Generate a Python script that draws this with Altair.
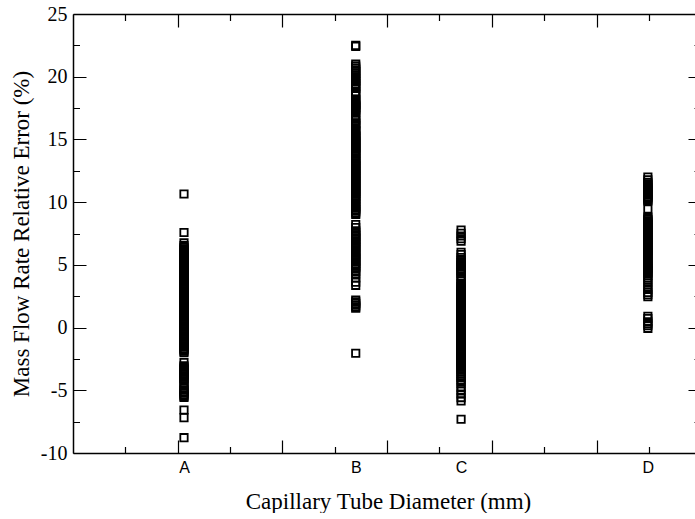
import altair as alt
import pandas as pd

# ---------------- data ----------------
categories = ["A", "B", "C", "D"]
x_positions = [1.06, 2.70, 3.706, 5.49]   # position of each tube on the x scale

errors_A = [10.65, 7.58, 6.75, 6.53, 6.39, 6.27, 6.18, 6.06, 5.98, 5.87, 5.79, 5.6,
            5.51, 5.4, 5.32, 5.21, 5.12, 5.02, 4.92, 4.81, 4.73, 4.62, 4.53, 4.41, 4.33,
            4.22, 4.13, 4.02, 3.94, 3.83, 3.72, 3.64, 3.52, 3.44, 3.33, 3.23, 3.14, 3.03,
            2.93, 2.84, 2.73, 2.64, 2.52, 2.44, 2.33, 2.24, 2.12, 2.04, 1.93, 1.83, 1.74,
            1.63, 1.54, 1.42, 1.34, 1.23, 1.14, 1.02, 0.93, 0.84, 0.72, 0.64, 0.53, 0.44,
            0.32, 0.24, 0.13, 0.04, -0.07, -0.16, -0.27, -0.36, -0.47, -0.56, -0.67, -0.76,
            -0.87, -0.96, -1.07, -1.16, -1.27, -1.36, -1.47, -1.56, -1.68, -1.77, -1.88,
            -1.98, -2.78, -3.05, -3.14, -3.26, -3.35, -3.46, -3.55, -3.66, -3.75, -3.86,
            -3.95, -4.06, -4.15, -4.4, -4.64, -4.84, -4.98, -5.11, -5.23, -5.36, -5.47,
            -5.56, -6.57, -7.18, -8.78]

errors_B = [22.5, 22.42, 21.0, 20.84, 20.69, 20.55, 20.41, 20.27, 20.12, 19.98, 19.86,
            19.72, 19.6, 19.45, 19.32, 19.2, 19.07, 18.8, 18.68, 18.57, 18.2, 18.1, 17.99,
            17.9, 17.79, 17.7, 17.6, 17.51, 17.4, 17.31, 17.2, 16.9, 16.62, 16.51, 16.3,
            16.21, 16.1, 15.82, 15.71, 15.6, 15.42, 15.31, 15.22, 15.11, 15.02, 14.91,
            14.82, 14.71, 14.62, 14.51, 14.42, 14.31, 14.22, 14.11, 14.02, 13.91, 13.82,
            13.71, 13.52, 13.43, 13.32, 13.23, 13.12, 13.03, 12.92, 12.83, 12.72, 12.63,
            12.52, 12.43, 12.32, 12.23, 12.12, 12.03, 11.92, 11.83, 11.72, 11.63, 11.52,
            11.43, 11.32, 11.23, 11.12, 11.03, 10.92, 10.83, 10.72, 10.63, 10.52, 10.43,
            10.32, 10.2, 10.05, 9.88, 9.76, 9.64, 9.52, 9.4, 9.28, 9.14, 9.03,
            8.22, 7.98, 7.72, 7.6, 7.49, 7.38, 7.27, 7.16, 7.03, 6.88, 6.78, 6.67, 6.56,
            6.45, 6.34, 6.2, 6.05, 5.94, 5.83, 5.72, 5.61, 5.5, 5.38, 5.25, 5.12, 5.01,
            4.9, 4.78, 4.68, 4.45, 4.3, 3.95, 3.62, 3.37,
            2.2, 2.05, 1.92, 1.78, 1.65, 1.54, -2.05]

errors_C = [7.78, 7.52, 7.3, 7.08, 6.88, 6.0, 5.82, 5.58, 5.36, 5.25, 5.14, 5.03, 4.93,
            4.82, 4.62, 4.52, 4.42, 4.32, 4.1, 3.9, 3.7, 3.5, 3.38, 3.27, 3.18, 3.06, 2.97,
            2.86, 2.77, 2.65, 2.56, 2.46, 2.35, 2.26, 2.15, 2.06, 1.95, 1.84, 1.76, 1.64,
            1.55, 1.45, 1.34, 1.25, 1.14, 1.05, 0.94, 0.85, 0.74, 0.64, 0.55, 0.44, 0.35,
            0.24, 0.15, 0.04, -0.05, -0.16, -0.25, -0.36, -0.45, -0.56, -0.65, -0.76,
            -0.85, -0.96, -1.05, -1.16, -1.25, -1.36, -1.46, -1.55, -1.66, -1.75, -1.86,
            -1.95, -2.06, -2.15, -2.26, -2.35, -2.46, -2.56, -2.65, -2.76, -2.85, -2.96,
            -3.05, -3.16, -3.26, -3.38, -3.52, -3.68, -3.84, -3.98, -4.15, -4.3, -4.48,
            -4.8, -5.05, -5.3, -5.58, -5.85, -7.31]

errors_D = [12.0, 11.78, 11.58, 11.46, 11.36, 11.26, 11.15, 11.06, 10.95, 10.84, 10.75,
            10.64, 10.55, 10.44, 10.35, 10.24, 10.16, 10.09, 9.45, 8.81, 8.72, 8.61, 8.52,
            8.41, 8.32, 8.21, 8.12, 8.01, 7.92, 7.81, 7.72, 7.61, 7.52, 7.41, 7.32, 7.21,
            7.12, 7.01, 6.92, 6.81, 6.72, 6.61, 6.52, 6.41, 6.32, 6.21, 6.12, 6.01, 5.92,
            5.81, 5.72, 5.61, 5.5, 5.33, 5.21, 5.12, 5.01, 4.92, 4.81, 4.72, 4.61, 4.52,
            4.41, 4.3, 4.15, 3.95, 3.8, 3.53, 3.22, 3.07, 2.8, 2.62, 2.46,
            0.9, 0.72, 0.45, 0.3, 0.15, -0.06]

y_major = [-10, -5, 0, 5, 10, 15, 20, 25]
y_minor = [-7.5, -2.5, 2.5, 7.5, 12.5, 17.5, 22.5]
x_major = [1, 2, 3, 4, 5]
x_minor = [0.5, 1.5, 2.5, 3.5, 4.5, 5.5]

# ---------------- table ----------------
rows = []
for cat, pos, vals in zip(categories, x_positions,
                          [errors_A, errors_B, errors_C, errors_D]):
    for v in vals:
        rows.append({"tube": cat, "pos": pos, "err": v})
df = pd.DataFrame(rows)

# ---------------- layout ----------------
W, H = 622, 439
x_scale = alt.Scale(domain=[0, 5.94], nice=False, zero=False)
y_scale = alt.Scale(domain=[-10, 25], nice=False, zero=False)

label_expr = " : ".join(
    f"datum.value < {p + 0.3} ? '{c}'" for c, p in zip(categories[:-1], x_positions[:-1])
) + f" : '{categories[-1]}'"

serif = "Liberation Serif"
GW = 1.2   # tick width
DW = 1.5   # border width

points = alt.Chart(df).mark_point(
    shape="square", filled=False, size=54, strokeWidth=1.8, color="black", opacity=1
).encode(
    x=alt.X("pos:Q", scale=x_scale, axis=alt.Axis(
        orient="bottom", values=x_positions, labelExpr=label_expr,
        ticks=False, tickSize=0, grid=False,
        domain=True, domainColor="black", domainWidth=DW,
        labelFont="Liberation Sans", labelFontSize=16, labelColor="black",
        labelPadding=6, labelFlush=False, labelOverlap=False,
        title="Capillary Tube Diameter (mm)", titleFont=serif, titleFontSize=23,
        titleFontWeight="normal", titleColor="black",
        titleX=315, titleY=55, titleBaseline="alphabetic")),
    y=alt.Y("err:Q", scale=y_scale, axis=alt.Axis(
        orient="left", values=y_major, labelExpr="'' + datum.value",
        ticks=False, tickSize=0,
        grid=True, gridColor="black", gridOpacity=1, gridWidth=GW,
        gridDash=[13, W - 20, 7, 3000],
        domain=True, domainColor="black", domainWidth=DW,
        labelFont=serif, labelFontSize=20, labelColor="black",
        labelPadding=6, labelFlush=False, labelOverlap=False,
        title="Mass Flow Rate Relative Error (%)", titleFont=serif, titleFontSize=23,
        titleFontWeight="normal", titleColor="black",
        titleX=-45, titleY=H / 2, titleBaseline="alphabetic")),
)

frame_top = alt.Chart(df).mark_point(opacity=0).encode(
    x=alt.X("pos:Q", scale=x_scale, axis=alt.Axis(
        orient="top", values=x_major, labels=False, ticks=False, tickSize=0,
        grid=True, gridColor="black", gridOpacity=1, gridWidth=GW,
        gridDash=[13, H - 26, 13, 3000],
        domain=True, domainColor="black", domainWidth=DW, title=None)),
    y=alt.Y("err:Q", scale=y_scale, axis=alt.Axis(
        orient="left", values=y_minor, labels=False, ticks=False, tickSize=0,
        grid=True, gridColor="black", gridOpacity=1, gridWidth=GW,
        gridDash=[6.5, W - 7.5, 1, 3000],
        domain=False, title=None)),
)

minor_x = alt.Chart(df).mark_point(opacity=0).encode(
    x=alt.X("pos:Q", scale=x_scale, axis=alt.Axis(
        orient="bottom", values=x_minor, labels=False, ticks=False, tickSize=0,
        grid=True, gridColor="black", gridOpacity=1, gridWidth=GW,
        gridDash=[6.5, H - 13, 6.5, 3000],
        domain=False, title=None)),
    y=alt.Y("err:Q", scale=y_scale, axis=None),
)

chart = alt.layer(points, frame_top, minor_x).resolve_axis(
    x="independent", y="independent"
).properties(
    width=W, height=H,
    autosize=alt.AutoSizeParams(type="none"),
    padding={"left": 73, "top": 14, "right": 0, "bottom": 60},
    background="white",
).configure_view(strokeWidth=0)

chart.save("out.html", embed_options={"renderer": "svg", "actions": False})
